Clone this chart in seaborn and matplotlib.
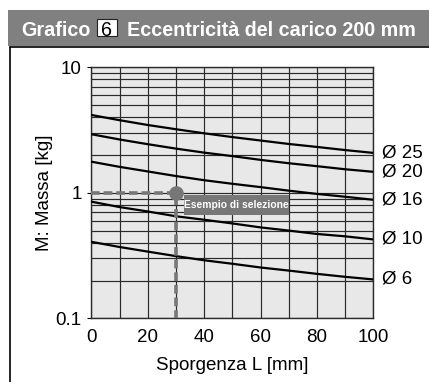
import numpy as np
import pandas as pd
import matplotlib
matplotlib.use("Agg")
import matplotlib.pyplot as plt
from matplotlib.patches import Rectangle
from matplotlib.lines import Line2D
import matplotlib.ticker as mticker
import seaborn as sns

# ---- data ----
L = [0, 10, 20, 30, 40, 50, 60, 70, 80, 90, 100]
d25 = [4.17, 3.79, 3.47, 3.21, 2.98, 2.78, 2.61, 2.45, 2.32, 2.19, 2.08]
d20 = [2.93, 2.66, 2.44, 2.25, 2.09, 1.96, 1.83, 1.72, 1.63, 1.54, 1.47]
d16 = [1.77, 1.61, 1.48, 1.36, 1.26, 1.18, 1.11, 1.04, 0.98, 0.93, 0.88]
d10 = [0.85, 0.77, 0.71, 0.65, 0.61, 0.57, 0.53, 0.50, 0.47, 0.45, 0.425]
d6 = [0.407, 0.37, 0.34, 0.313, 0.29, 0.272, 0.254, 0.24, 0.226, 0.214, 0.204]
series_names = ["Ø 25", "Ø 20", "Ø 16", "Ø 10", "Ø 6"]
series_vals = [d25, d20, d16, d10, d6]
x_ticks = [0, 20, 40, 60, 80, 100]
y_ticks = [0.1, 1, 10]
y_tick_labels = ["0.1", "1", "10"]
example_L = [0, 30, 30]
example_M = [1, 1, 0.1]
example_label = "Esempio di selezione"
title_pre = "Grafico"
title_num = "6"
title_post = "Eccentricità del carico 200 mm"
xlabel = "Sporgenza L [mm]"
ylabel = "M: Massa [kg]"

rows = []
for name, vals in zip(series_names, series_vals):
    for x, v in zip(L, vals):
        rows.append({"L": x, "M": v, "serie": name})
df = pd.DataFrame(rows)

sns.set_theme(style="white")
plt.rcParams["font.family"] = ["Liberation Sans", "DejaVu Sans"]

W, H = 429, 382
fig = plt.figure(figsize=(W / 100, H / 100), dpi=100)
fig.patch.set_facecolor("white")


def fx(px):
    return px / W


def fy(py):
    return 1 - py / H


# title bar
fig.patches.append(Rectangle((fx(8), fy(46)), 1 - fx(8), 36 / H,
                             transform=fig.transFigure, facecolor="#808080",
                             edgecolor="none", zorder=0))
# frame lines
fig.add_artist(Line2D([fx(9.5), fx(9.5)], [0, fy(46.5)], transform=fig.transFigure,
                      color="black", lw=1.2))
fig.add_artist(Line2D([fx(9.5), 1], [fy(46.5), fy(46.5)], transform=fig.transFigure,
                      color="black", lw=1.2))

TS = 14.2
fig.text(fx(21), fy(28), title_pre, color="white", fontsize=TS,
         fontweight="bold", va="center_baseline", ha="left")
fig.patches.append(Rectangle((fx(97), fy(36)), 20 / W, 17 / H, transform=fig.transFigure,
                             facecolor="white", edgecolor="#222222", lw=0.8, zorder=2))
fig.text(fx(107), fy(28), title_num, color="black", fontsize=TS,
         va="center_baseline", ha="center", zorder=3)
fig.text(fx(127), fy(28), title_post, color="white", fontsize=TS,
         fontweight="bold", va="center_baseline", ha="left")

ax = fig.add_axes([fx(91.3), fy(318.3), 282 / W, 251 / H])
ax.set_facecolor("#e8e8e8")

sns.lineplot(data=df, x="L", y="M", hue="serie", palette=["black"] * 5,
             linewidth=1.6, legend=False, ax=ax, zorder=3)

ax.set_yscale("log")
ax.set_xlim(0, 100)
ax.set_ylim(0.1, 10)
ax.set_xticks(x_ticks)
ax.set_xticklabels([str(t) for t in x_ticks])
ax.xaxis.set_minor_locator(mticker.MultipleLocator(10))
ax.set_yticks(y_ticks)
ax.set_yticklabels(y_tick_labels)
ax.yaxis.set_minor_locator(mticker.LogLocator(base=10, subs=np.arange(2, 10)))
ax.yaxis.set_minor_formatter(mticker.NullFormatter())
ax.grid(which="both", axis="both", color="#2a2a2a", lw=0.85, zorder=1)
ax.set_axisbelow(True)
FS = 13.5
ax.tick_params(axis="x", which="both", length=0, labelsize=FS, pad=8, colors="black")
ax.tick_params(axis="y", which="major", length=3, width=0.8, labelsize=FS, pad=4,
               left=True, colors="black")
ax.tick_params(axis="y", which="minor", length=0)
for s in ax.spines.values():
    s.set_color("#2a2a2a")
    s.set_linewidth(1)

ax.set_xlabel(xlabel, fontsize=FS, color="black")
ax.set_ylabel(ylabel, fontsize=FS, color="black")
ax.xaxis.set_label_coords(0.5, -0.156)
ax.yaxis.set_label_coords(-0.136, 0.5)

# selection example
ax.plot(example_L, example_M, color="#777777", lw=2.6, ls=(0, (2.4, 1.1)), zorder=4)
ax.plot([example_L[1]], [example_M[1]], "o", color="#777777", ms=9.5, zorder=5)
ax.add_patch(Rectangle((33.0, 0.665), 37.0, 0.965 - 0.665, facecolor="#777777",
                       edgecolor="none", zorder=6))
ax.text(51.5, 0.805, example_label, color="white", fontsize=7.4, fontweight="bold",
        va="center", ha="center", zorder=7)

# series labels
for name, vals in zip(series_names, series_vals):
    ax.text(103, vals[-1], name, fontsize=FS, va="center", ha="left",
            color="black", clip_on=False)

fig.savefig("out.png", dpi=100)
